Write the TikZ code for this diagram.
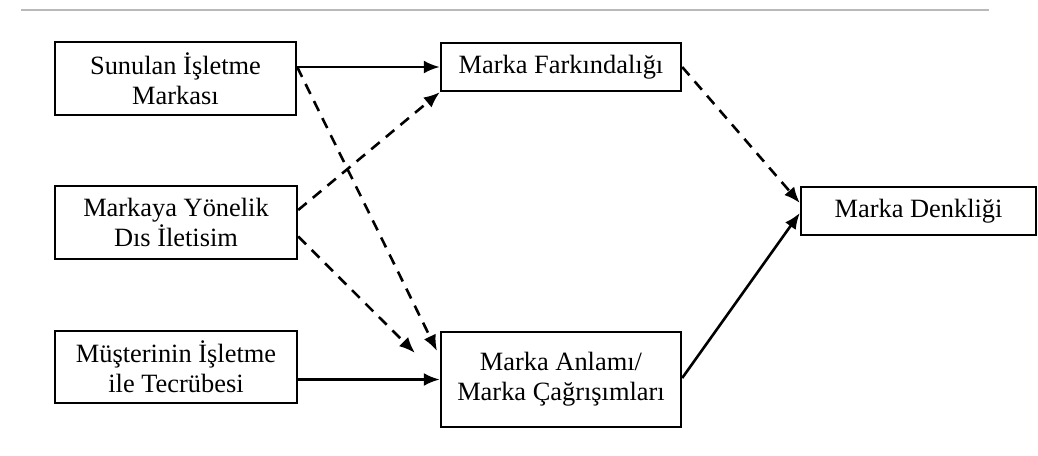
\documentclass[tikz,border=0pt]{standalone}
\usepackage{fontspec}
\setmainfont{Liberation Serif}
\usetikzlibrary{arrows.meta,positioning}

\begin{document}
\begin{tikzpicture}[x=0.5pt,y=-0.5pt,
    kutu/.style={draw,line width=1.2pt,inner sep=0pt,align=center,
        font=\fontsize{13.2}{15}\selectfont},
    ok/.style={line width=1.3pt,-{Latex[length=8pt,width=6.5pt]}},
    kesik/.style={ok,dash pattern=on 5.5pt off 4pt}]
    \useasboundingbox (0,0) rectangle (1038,455);

    \draw[gray!55,line width=1.3pt] (21,10) -- (989,10);

    % left column
    \node[kutu,minimum width=120.5pt,minimum height=36.5pt] (sunulan) at (175.5,78.5) {Sunulan İşletme\\Markası};
    \node[kutu,minimum width=121pt,minimum height=36.5pt] (markaya) at (176,222.5) {Markaya Yönelik\\Dıs İletisim};
    \node[kutu,minimum width=121pt,minimum height=36pt] (musteri) at (176,367) {Müşterinin İşletme\\ile Tecrübesi};

    % middle column
    \node[kutu,minimum width=120pt,minimum height=24pt] (farkindalik) at (561,67) {Marka Farkındalığı};
    \node[kutu,minimum width=120pt,minimum height=47.5pt] (anlam) at (561,379.5) {Marka Anlamı/\\Marka Çağrışımları};

    % right
    \node[kutu,minimum width=117.5pt,minimum height=24pt] (denklik) at (918.5,211) {Marka Denkliği};

    \coordinate (ucA) at (437,351);
    \coordinate (ucB) at (415,353);

    \draw[ok] (sunulan.east |- farkindalik.west) -- (farkindalik.west);
    \draw[kesik] (sunulan.east |- farkindalik.west) -- (ucA);
    \draw[kesik] ([yshift=6.25pt]markaya.east) -- (farkindalik.south west);
    \draw[kesik] ([yshift=-7pt]markaya.east) -- (ucB);
    \draw[ok] (musteri.east |- anlam.west) -- (anlam.west);
    \draw[kesik] (farkindalik.east) -- ([yshift=4pt]denklik.west);
    \draw[ok] ([yshift=0.75pt]anlam.east) -- ([yshift=-1pt]denklik.west);
\end{tikzpicture}
\end{document}
